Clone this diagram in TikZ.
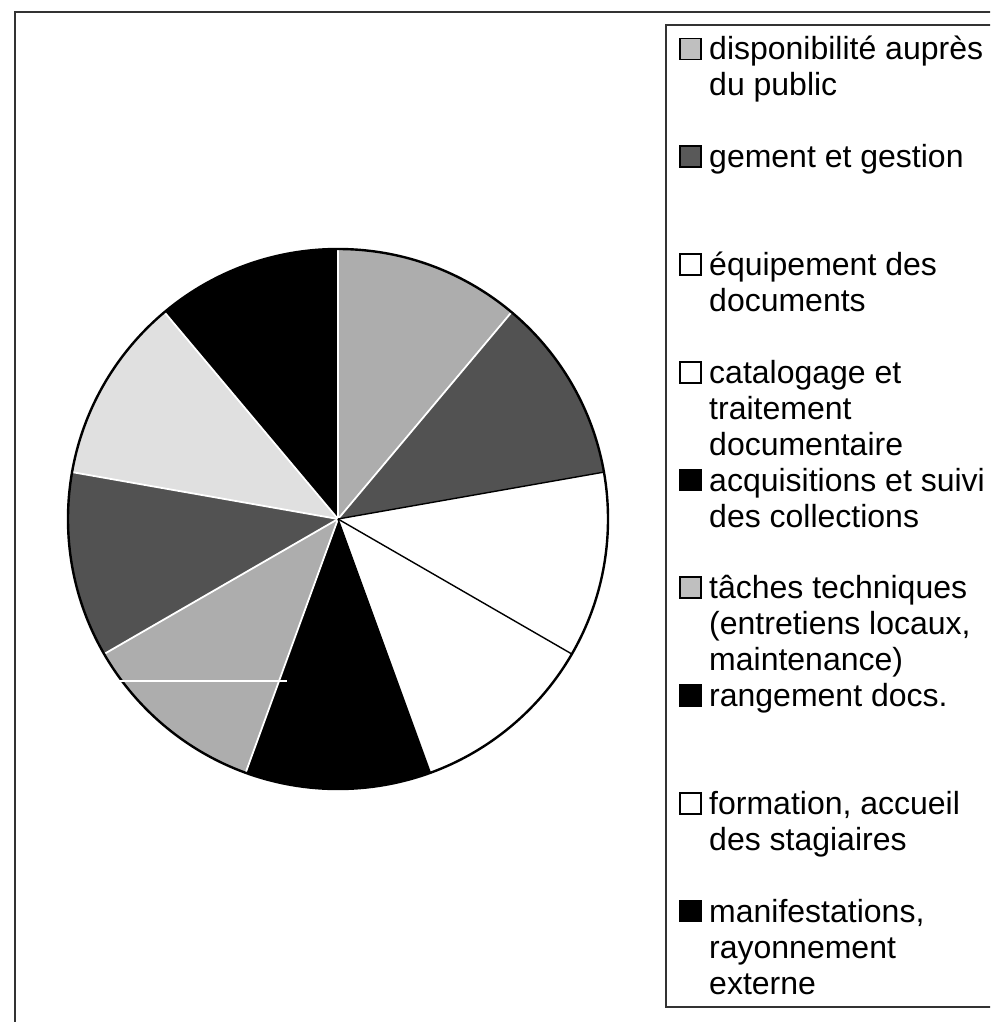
\documentclass[tikz,border=0pt]{standalone}
\usepackage{fontspec}
\setmainfont{Liberation Sans}
\definecolor{lgray}{gray}{0.68}
\definecolor{dgray}{gray}{0.32}
\definecolor{vlgray}{gray}{0.88}
\definecolor{sqlgray}{gray}{0.75}
\definecolor{sqdgray}{gray}{0.35}
\begin{document}
\begin{tikzpicture}[x=1pt,y=-1pt,
  lg/.style={anchor=base west, inner sep=0pt, font=\fontsize{32}{36}\selectfont},
  sq/.style={draw=black, line width=1.6pt},
  frameline/.style={draw=black!80, line width=1.2pt},
  whitesep/.style={draw=white, line width=1.8pt},
  blacksep/.style={draw=black, line width=1.4pt}]
\useasboundingbox (0,0) rectangle (990,1022);
\clip (0,0) rectangle (990,1022);
\fill[white] (0,0) rectangle (990,1022);
% outer frame and legend box
\draw[frameline] (15,1030) -- (15,12) -- (1000,12);
\draw[frameline] (1000,25) -- (666,25) -- (666,1007) -- (1000,1007);
% pie
\coordinate (C) at (338,519);
\def\R{270}
\foreach \k/\col in {1/lgray,2/dgray,3/white,4/white,5/black,6/lgray,7/dgray,8/vlgray,9/black}{
  \pgfmathsetmacro\a{-90+40*(\k-1)}
  \pgfmathsetmacro\b{-90+40*\k}
  \fill[\col] (C) -- ++(\a:\R) arc[start angle=\a,end angle=\b,radius=\R] -- cycle;
}
\foreach \t in {-90,-50,110,150,190,230}{
  \draw[whitesep] (C) -- ++(\t:\R);
}
\foreach \t in {-10,30,70}{
  \draw[blacksep] (C) -- ++(\t:\R);
}
\draw[black, line width=2.4pt] (C) circle[radius=\R];
\draw[white, line width=1.2pt] (118,681) -- (287,681);
% legend
\foreach \i/\col/\txt in {
  1/sqlgray/{disponibilité auprès\\du public},
  2/sqdgray/{gement et gestion},
  3/white/{équipement des\\documents},
  4/white/{catalogage et\\traitement\\documentaire},
  5/black/{acquisitions et suivi\\des collections},
  6/sqlgray/{tâches techniques\\(entretiens locaux,\\maintenance)},
  7/black/{rangement docs.},
  8/white/{formation, accueil\\des stagiaires},
  9/black/{manifestations,\\rayonnement\\externe}}{
  \pgfmathsetmacro\yc{49+107.75*(\i-1)}
  \draw[sq, fill=\col] (680,\yc-10.5) rectangle (701,\yc+10.5);
  \node[lg] (lab\i) at (709,\yc+11) {\begin{tabular}[t]{@{}l@{}}\txt\end{tabular}};
}
\end{tikzpicture}
\end{document}
